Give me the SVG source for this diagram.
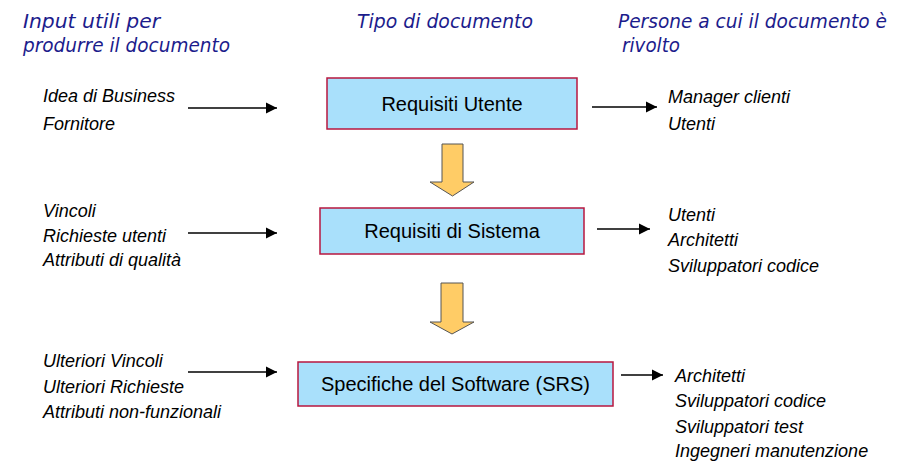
<svg xmlns="http://www.w3.org/2000/svg" width="911" height="462" viewBox="0 0 911 462">
<style>
.hdr{font-family:"DejaVu Sans",Verdana,sans-serif;font-style:italic;font-size:19px;fill:#1c1c8c}
.lbl{font-family:"Liberation Sans",Arial,sans-serif;font-style:italic;font-size:18px;fill:#000}
.box rect{fill:#a9e0fb;stroke:#b8173f;stroke-width:1.5}
.box text{font-family:"Liberation Sans",Arial,sans-serif;font-size:20px;fill:#000;text-anchor:middle}
.con{stroke:#000;stroke-width:1.5;fill:none;marker-end:url(#ah)}
.big{fill:#ffcc66;stroke:#555;stroke-width:1}
</style>
<defs>
<marker id="ah" viewBox="0 0 10 10" refX="10" refY="5" markerUnits="userSpaceOnUse" markerWidth="11" markerHeight="12" orient="auto">
<path d="M0,0 L10,5 L0,10 Z" fill="#000"/>
</marker>
</defs>
<rect width="911" height="462" fill="#fff"/>
<g id="headers">
<text class="hdr" x="23" y="28" textLength="137" lengthAdjust="spacingAndGlyphs">Input utili per</text>
<text class="hdr" x="23" y="52" textLength="207" lengthAdjust="spacingAndGlyphs">produrre il documento</text>
<text class="hdr" x="357" y="28" textLength="176" lengthAdjust="spacingAndGlyphs">Tipo di documento</text>
<text class="hdr" x="618" y="28" textLength="269" lengthAdjust="spacingAndGlyphs">Persone a cui il documento è</text>
<text class="hdr" x="622" y="52" textLength="58" lengthAdjust="spacingAndGlyphs">rivolto</text>
</g>
<g id="n1" class="box">
<rect x="327" y="78" width="250" height="51"/>
<text x="452" y="111">Requisiti Utente</text>
</g>
<g id="n2" class="box">
<rect x="320" y="208" width="264" height="46"/>
<text x="452" y="238">Requisiti di Sistema</text>
</g>
<g id="n3" class="box">
<rect x="298" y="362" width="315" height="44"/>
<text x="455.5" y="391">Specifiche del Software (SRS)</text>
</g>
<g id="in1">
<text class="lbl" x="43" y="102">Idea di Business</text>
<text class="lbl" x="43" y="130">Fornitore</text>
</g>
<g id="in2">
<text class="lbl" x="43" y="217">Vincoli</text>
<text class="lbl" x="43" y="242">Richieste utenti</text>
<text class="lbl" x="43" y="266">Attributi di qualità</text>
</g>
<g id="in3">
<text class="lbl" x="43" y="367">Ulteriori Vincoli</text>
<text class="lbl" x="43" y="393">Ulteriori Richieste</text>
<text class="lbl" x="43" y="418">Attributi non-funzionali</text>
</g>
<g id="out1">
<text class="lbl" x="668" y="103">Manager clienti</text>
<text class="lbl" x="668" y="130">Utenti</text>
</g>
<g id="out2">
<text class="lbl" x="668" y="221">Utenti</text>
<text class="lbl" x="668" y="246">Architetti</text>
<text class="lbl" x="668" y="272">Sviluppatori codice</text>
</g>
<g id="out3">
<text class="lbl" x="675" y="382">Architetti</text>
<text class="lbl" x="675" y="407">Sviluppatori codice</text>
<text class="lbl" x="675" y="433">Sviluppatori test</text>
<text class="lbl" x="675" y="457">Ingegneri manutenzione</text>
</g>
<g id="connectors">
<line class="con" x1="188" y1="108" x2="277" y2="108"/>
<line class="con" x1="592" y1="107" x2="657" y2="107"/>
<line class="con" x1="188" y1="233" x2="277" y2="233"/>
<line class="con" x1="597" y1="229" x2="650" y2="229"/>
<line class="con" x1="188" y1="372" x2="277" y2="372"/>
<line class="con" x1="621" y1="375" x2="663" y2="375"/>
<path class="big" d="M442,144 H463 V182 H474 L452.5,196 L430,182 H442 Z"/>
<path class="big" d="M441,283 H463 V322 H474 L452,334 L430,322 H441 Z"/>
</g>
</svg>
